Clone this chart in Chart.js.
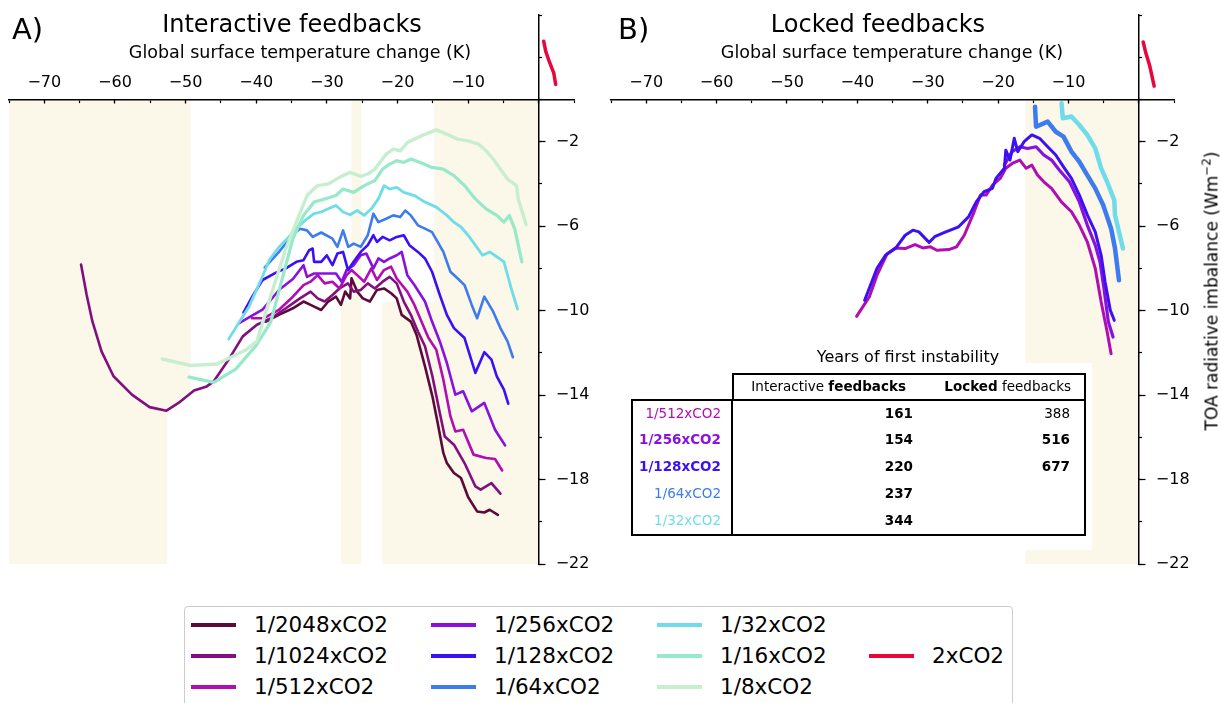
<!DOCTYPE html>
<html><head><meta charset="utf-8">
<script src="https://cdn.jsdelivr.net/npm/chart.js@4.4.1/dist/chart.umd.min.js"></script>
<style>
html,body{margin:0;padding:0;background:#fff}
body{position:relative;width:1221px;height:703px;overflow:hidden;font-family:'DejaVu Sans',sans-serif;color:#000}
.t{position:absolute;white-space:nowrap;line-height:1}
.cc{transform:translate(-50%,-50%)}
.lc{transform:translate(0,-50%)}
.rc{transform:translate(-100%,-50%)}
canvas{position:absolute;top:0}
</style></head><body>
<canvas id="cA" width="600" height="600" style="left:0px"></canvas>
<canvas id="cB" width="621" height="600" style="left:600px"></canvas>
<div class="t lc" style="left:12px;top:29px;font-size:29px">A)</div>
<div class="t cc" style="left:292px;top:24px;font-size:24px">Interactive feedbacks</div>
<div class="t cc" style="left:300px;top:53px;font-size:17.5px">Global surface temperature change (K)</div>
<div class="t lc" style="left:618px;top:29px;font-size:29px">B)</div>
<div class="t cc" style="left:878px;top:24px;font-size:24px">Locked feedbacks</div>
<div class="t cc" style="left:892px;top:53px;font-size:17.5px">Global surface temperature change (K)</div>
<div class="t" style="left:1212px;top:291px;font-size:17px;transform:translate(-50%,-50%) rotate(-90deg)">TOA radiative imbalance (Wm<span style="font-size:70%;position:relative;top:-0.55em">−2</span>)</div>
<div id="tbl"></div>
<div id="legend"></div>
<script>
// ---------------- data ----------------
const X_TICK_LABELS = [-70,-60,-50,-40,-30,-20,-10];
const X_MAJOR_TICKS = [-70,-60,-50,-40,-30,-20,-10,0];
const Y_TICK_LABELS = [-2,-6,-10,-14,-18,-22];

const SERIES_NAMES = ['1/2048xCO2','1/1024xCO2','1/512xCO2','1/256xCO2','1/128xCO2','1/64xCO2','1/32xCO2','1/16xCO2','1/8xCO2','2xCO2'];

// Panel A: interactive feedbacks  [temperature change K, TOA imbalance W m-2]
const A_2048 = [[-38.6,-10.52],[-36.8,-10.2],[-34.8,-9.89],[-33.3,-9.57],[-32.3,-9.73],[-30.8,-9.97],[-29.8,-9.57],[-28.7,-9.34],[-28.0,-9.73],[-27.4,-9.1],[-26.7,-9.42],[-26.5,-8.47],[-25.7,-9.1],[-24.9,-9.42],[-23.9,-9.57],[-22.9,-9.02],[-21.9,-8.95],[-20.9,-9.18],[-20.1,-9.42],[-19.4,-10.2],[-18.1,-10.52],[-17.3,-11.14],[-16.1,-12.64],[-15.05,-14.06],[-14.3,-15.32],[-13.5,-16.74],[-13.0,-17.22],[-12.0,-17.69],[-11.0,-17.93],[-10.0,-18.83],[-8.72,-19.51],[-7.7,-19.56],[-6.94,-19.43],[-5.78,-19.67]];
const A_1024 = [[-64.8,-7.82],[-64.0,-9.26],[-63.2,-10.5],[-61.9,-11.93],[-60.2,-13.11],[-57.6,-13.98],[-55.1,-14.57],[-52.7,-14.74],[-51.0,-14.37],[-48.8,-13.78],[-47.0,-13.59],[-46.0,-13.35],[-43.9,-12.32],[-41.9,-11.22],[-39.9,-10.67],[-37.9,-10.36],[-35.8,-9.89],[-33.8,-9.42],[-32.3,-9.1],[-31.3,-9.42],[-30.3,-9.57],[-29.2,-9.26],[-28.2,-8.95],[-27.0,-8.71],[-26.2,-9.1],[-25.2,-9.02],[-24.2,-8.71],[-23.2,-8.95],[-22.1,-8.63],[-21.1,-8.4],[-20.1,-8.71],[-19.1,-9.57],[-18.1,-10.2],[-17.1,-10.99],[-16.1,-11.69],[-15.05,-13.11],[-14.0,-14.85],[-13.3,-15.96],[-12.0,-16.35],[-10.5,-17.22],[-8.97,-18.32],[-8.21,-18.48],[-6.69,-18.17],[-5.42,-18.67]];
const A_512 = [[-40.6,-10.36],[-38.9,-10.36],[-36.8,-9.97],[-34.8,-9.34],[-33.3,-8.79],[-32.3,-8.63],[-31.3,-8.32],[-30.3,-8.71],[-29.2,-8.63],[-28.2,-8.95],[-27.2,-8.32],[-26.5,-8.08],[-25.7,-8.32],[-24.7,-8.63],[-23.7,-8.0],[-22.9,-8.55],[-21.9,-8.08],[-20.9,-7.92],[-20.1,-8.48],[-18.6,-9.1],[-17.6,-9.73],[-16.6,-10.52],[-15.6,-11.3],[-14.5,-11.85],[-13.5,-13.27],[-12.5,-15.0],[-11.8,-15.72],[-10.7,-15.64],[-9.22,-16.82],[-7.45,-16.98],[-6.18,-17.03],[-5.17,-17.57]];
const A_256 = [[-42.4,-10.59],[-40.9,-10.3],[-39.1,-9.95],[-36.7,-9.0],[-34.8,-8.5],[-33.3,-7.85],[-32.8,-8.4],[-31.8,-8.24],[-30.3,-8.24],[-28.7,-8.24],[-27.9,-8.63],[-27.2,-8.08],[-26.2,-7.85],[-25.2,-7.38],[-24.4,-7.3],[-23.4,-8.0],[-22.7,-7.53],[-21.9,-7.69],[-21.1,-7.53],[-20.1,-7.38],[-19.4,-7.22],[-18.6,-8.32],[-17.6,-8.79],[-16.1,-9.57],[-15.1,-10.52],[-14.0,-11.46],[-13.0,-12.48],[-11.8,-13.98],[-10.7,-13.82],[-9.48,-14.77],[-7.7,-14.37],[-6.18,-15.64],[-4.76,-16.38]];
const A_128 = [[-41.8,-10.1],[-40.5,-9.3],[-39.1,-8.55],[-37.2,-8.2],[-35.8,-8.0],[-34.3,-7.69],[-33.3,-7.61],[-32.5,-7.14],[-32.0,-7.06],[-31.8,-7.69],[-30.8,-7.69],[-30.0,-7.38],[-29.2,-7.85],[-28.5,-7.3],[-27.7,-7.22],[-27.0,-8.08],[-26.2,-7.69],[-25.2,-7.22],[-24.2,-6.9],[-23.4,-6.43],[-22.9,-6.75],[-22.1,-6.51],[-21.1,-6.67],[-20.1,-6.51],[-19.1,-6.43],[-18.3,-6.9],[-17.1,-7.22],[-16.1,-7.53],[-15.1,-8.16],[-14.0,-9.26],[-13.0,-10.2],[-12.0,-10.83],[-10.5,-11.3],[-8.97,-12.95],[-7.7,-11.97],[-6.69,-12.32],[-5.93,-13.11],[-4.92,-13.74],[-4.31,-14.41]];
const A_64 = [[-38.8,-7.96],[-36.7,-7.19],[-34.8,-6.4],[-33.8,-6.12],[-32.8,-6.2],[-32.0,-6.51],[-30.8,-6.3],[-29.2,-6.59],[-28.5,-6.98],[-27.7,-6.2],[-26.96,-6.98],[-26.2,-6.83],[-25.2,-6.98],[-24.2,-6.43],[-23.4,-5.41],[-22.7,-5.81],[-21.6,-5.65],[-20.6,-5.49],[-19.6,-5.57],[-18.9,-5.26],[-18.1,-5.49],[-17.1,-5.96],[-16.1,-6.12],[-15.1,-6.28],[-13.5,-7.22],[-12.5,-8.16],[-11.5,-8.47],[-10.5,-8.79],[-9.48,-9.73],[-8.72,-10.36],[-7.7,-9.34],[-6.44,-10.05],[-5.42,-10.83],[-4.41,-11.46],[-3.65,-12.21]];
const A_32 = [[-43.9,-11.35],[-42.5,-10.6],[-41.0,-9.8],[-39.1,-8.37],[-38.1,-7.58],[-36.8,-7.0],[-35.5,-6.56],[-34.3,-6.1],[-32.8,-5.65],[-31.8,-5.41],[-30.8,-5.33],[-29.8,-5.18],[-28.7,-5.02],[-27.7,-5.33],[-26.7,-5.46],[-25.7,-5.26],[-24.7,-5.49],[-23.7,-5.18],[-22.7,-4.71],[-21.9,-4.08],[-21.1,-4.24],[-20.1,-4.16],[-19.1,-4.4],[-17.6,-4.55],[-16.1,-4.86],[-14.5,-5.1],[-13.0,-5.49],[-12.0,-5.81],[-11.0,-6.04],[-10.0,-6.43],[-8.97,-6.9],[-7.96,-7.38],[-6.94,-7.22],[-5.93,-7.45],[-4.92,-7.69],[-3.9,-8.94],[-2.99,-9.93]];
const A_16 = [[-49.5,-13.15],[-46.0,-13.4],[-42.9,-12.77],[-40.1,-11.69],[-38.6,-10.9],[-37.9,-10.5],[-36.3,-8.47],[-34.8,-6.59],[-33.3,-5.49],[-31.8,-4.86],[-30.3,-4.71],[-28.7,-4.55],[-27.7,-4.24],[-26.2,-4.4],[-24.7,-4.08],[-23.2,-3.84],[-22.1,-3.3],[-21.1,-3.06],[-20.1,-2.9],[-19.1,-2.98],[-18.1,-2.82],[-16.6,-3.01],[-15.1,-3.22],[-13.5,-3.3],[-12.0,-3.61],[-10.5,-4.08],[-8.97,-4.71],[-7.45,-5.18],[-5.93,-5.49],[-4.92,-5.81],[-4.16,-5.49],[-3.4,-6.12],[-2.38,-7.69]];
const A_8 = [[-53.3,-12.29],[-49.3,-12.6],[-45.5,-12.53],[-43.5,-12.2],[-41.4,-11.85],[-39.9,-11.45],[-37.9,-9.26],[-35.8,-7.06],[-34.3,-5.8],[-32.8,-4.55],[-31.3,-4.08],[-29.8,-4.0],[-28.2,-3.69],[-26.7,-3.45],[-25.2,-3.64],[-24.2,-3.53],[-23.2,-3.3],[-21.6,-2.59],[-20.6,-2.35],[-19.6,-2.43],[-18.6,-2.04],[-17.6,-1.88],[-16.1,-1.65],[-14.5,-1.44],[-13.0,-1.65],[-11.5,-1.88],[-10.0,-1.96],[-8.5,-2.12],[-7.45,-2.43],[-6.44,-2.82],[-5.42,-3.3],[-4.41,-3.77],[-3.14,-4.08],[-2.89,-4.71],[-1.77,-5.93]];
const A_2x = [[0.71,2.76],[0.99,2.29],[1.56,1.74],[2.13,1.26],[2.41,0.71]];

// Panel B: locked feedbacks
const B_512 = [[-40.1,-10.27],[-38.3,-9.35],[-37.2,-8.32],[-35.75,-7.3],[-34.6,-7.03],[-33.2,-7.06],[-31.8,-6.87],[-30.7,-7.03],[-29.6,-6.98],[-28.7,-7.14],[-27.0,-7.11],[-25.9,-6.98],[-24.8,-6.43],[-23.4,-5.32],[-22.5,-4.53],[-21.7,-4.53],[-20.8,-4.06],[-19.7,-3.74],[-18.9,-3.26],[-18.0,-3.03],[-16.9,-2.87],[-16.0,-3.26],[-15.2,-3.11],[-14.4,-3.58],[-13.5,-3.9],[-12.4,-4.21],[-11.0,-4.85],[-9.57,-5.32],[-8.45,-5.95],[-7.32,-6.74],[-6.19,-8.0],[-5.35,-9.59],[-4.5,-11.0],[-3.94,-12.04]];
const B_256 = [[-19.1,-3.1],[-18.0,-2.47],[-16.9,-2.24],[-15.8,-2.32],[-14.6,-2.24],[-13.5,-2.63],[-12.4,-2.87],[-11.3,-3.34],[-9.85,-3.9],[-8.45,-4.85],[-7.32,-5.95],[-6.19,-6.9],[-5.52,-7.69],[-4.95,-8.95],[-4.33,-10.53],[-3.66,-11.25]];
const B_128 = [[-38.96,-9.51],[-37.2,-8.0],[-36.0,-7.38],[-34.6,-7.06],[-33.2,-6.43],[-32.1,-6.19],[-31.25,-6.27],[-29.8,-6.77],[-29.0,-6.5],[-27.6,-6.3],[-25.6,-6.03],[-24.2,-5.56],[-23.1,-4.85],[-22.0,-4.37],[-20.8,-4.21],[-20.3,-3.74],[-19.1,-3.26],[-18.9,-2.4],[-18.3,-2.87],[-17.7,-1.84],[-17.2,-2.47],[-16.3,-2.0],[-15.2,-1.68],[-14.1,-1.84],[-12.95,-2.24],[-11.8,-2.63],[-10.7,-3.19],[-9.57,-3.74],[-8.45,-4.53],[-7.3,-5.48],[-6.19,-6.27],[-5.35,-7.38],[-4.79,-8.64],[-4.05,-9.98],[-3.49,-10.46]];
const B_64 = [[-14.75,-0.34],[-14.6,-1.29],[-12.95,-1.05],[-11.8,-1.53],[-10.7,-1.76],[-9.57,-2.47],[-8.45,-2.95],[-7.32,-3.58],[-6.19,-4.21],[-5.07,-5.0],[-3.94,-6.11],[-3.38,-7.06],[-2.82,-8.56]];
const B_32 = [[-10.98,-0.18],[-10.8,-0.89],[-9.57,-0.81],[-8.45,-1.21],[-7.32,-1.68],[-6.19,-2.32],[-5.35,-3.26],[-4.5,-3.9],[-3.49,-4.77],[-3.38,-5.48],[-2.25,-7.06]];
const B_2x = [[0.62,2.72],[0.99,2.21],[1.56,1.58],[2.18,0.63]];

// shaded (unstable) temperature ranges, polygons in data units
const SHADE_A = [
  [[-75,0],[-49.3,0],[-49.3,-13.8],[-52.6,-14.7],[-52.6,-22],[-75,-22]],
  [[-26.5,0],[-25.1,0],[-25.1,-22],[-28.0,-22],[-28.0,-9.6],[-26.5,-9.6]],
  [[-14.8,0],[0,0],[0,-22],[-22.15,-22],[-22.15,-9.6],[-14.8,-9.6]]
];
const SHADE_B = [
  [[-16.1,0],[0,0],[0,-22],[-16.1,-22]]
];

// table
const TABLE_TITLE = 'Years of first instability';
const TABLE_ROWS = ['1/512xCO2','1/256xCO2','1/128xCO2','1/64xCO2','1/32xCO2'];
const YEARS_INTERACTIVE = [161,154,220,237,344];
const YEARS_LOCKED = [388,516,677,null,null];

// ---------------- styles ----------------
const COLORS = {
  '1/2048xCO2':'#5c0b38','1/1024xCO2':'#820f80','1/512xCO2':'#b00db2','1/256xCO2':'#8a10e0',
  '1/128xCO2':'#3c10f5','1/64xCO2':'#3e7bee','1/32xCO2':'#6fdcea','1/16xCO2':'#96e9c9',
  '1/8xCO2':'#c7efcf','2xCO2':'#e8063c'
};
const SHADE_COLOR = '#fbf7e9';
Chart.defaults.font.family = "'DejaVu Sans', sans-serif";
Chart.defaults.color = '#000';

const shadePlugin = {
  id:'shade',
  beforeDraw(chart, args, opts){
    const {ctx, scales:{x, y}} = chart;
    ctx.save(); ctx.fillStyle = SHADE_COLOR;
    for (const poly of opts.polys || []) {
      ctx.beginPath();
      poly.forEach(([vx,vy],i)=>{
        const px = x.getPixelForValue(vx), py = y.getPixelForValue(vy);
        if (i) ctx.lineTo(px,py); else ctx.moveTo(px,py);
      });
      ctx.closePath(); ctx.fill();
    }
    ctx.restore();
  }
};
const yLabelPlugin = {
  id:'ylab',
  afterDraw(chart){
    const {ctx, scales:{x, y}} = chart;
    ctx.save();
    ctx.font = "16px 'DejaVu Sans'"; ctx.fillStyle = '#000';
    ctx.textAlign = 'left'; ctx.textBaseline = 'middle';
    const x0 = x.getPixelForValue(0);
    for (const v of Y_TICK_LABELS) ctx.fillText('\u2212' + Math.abs(v), x0 + 17, y.getPixelForValue(v));
    ctx.restore();
  }
};

function makeChart(id, padL, padR, series, polys){
  const n = series.length;
  const tickGrid = len => ({display:true, drawOnChartArea:false, drawTicks:true, tickLength:len, tickColor:'#000', tickWidth:1.2});
  return new Chart(document.getElementById(id), {
    type:'scatter',
    data:{datasets: series.map((s,i)=>({
      label:s.name,
      data:s.pts.map(([x,y])=>({x,y})),
      borderColor:COLORS[s.name], backgroundColor:COLORS[s.name],
      borderWidth:s.w, showLine:true, pointRadius:0, pointHoverRadius:0,
      tension:0, fill:false, borderJoinStyle:'round', borderCapStyle:'round',
      order:n - i, clip:false
    }))},
    options:{
      responsive:false, animation:false, events:[],
      layout:{padding:{left:padL, right:padR, top:15, bottom:36}},
      plugins:{legend:{display:false}, tooltip:{enabled:false}, title:{display:false}, shade:{polys}},
      scales:{
        x:{type:'linear', min:-75, max:5, position:{y:0},
           grid:tickGrid(2.6),
           border:{display:true, color:'#000', width:1.5},
           ticks:{stepSize:5, autoSkip:false, maxRotation:0, minRotation:0, padding:-29, font:{size:16}, color:'#000',
                  callback:v => X_TICK_LABELS.includes(v) ? '\u2212' + Math.abs(v) : ''}},
        xMajor:{type:'linear', axis:'x', min:-75, max:5, position:{y:0},
           grid:tickGrid(4.5), border:{display:false},
           afterBuildTicks:s => { s.ticks = X_MAJOR_TICKS.map(v=>({value:v})); },
           ticks:{display:false}},
        y:{type:'linear', min:-22, max:4, position:{x:0},
           grid:tickGrid(-4),
           border:{display:true, color:'#000', width:1.5},
           ticks:{stepSize:2, display:false}},
        yMajor:{type:'linear', axis:'y', min:-22, max:4, position:{x:0},
           grid:tickGrid(-6.5), border:{display:false},
           afterBuildTicks:s => { s.ticks = Y_TICK_LABELS.map(v=>({value:v})); },
           ticks:{display:false}}
      }
    },
    plugins:[shadePlugin, yLabelPlugin]
  });
}

const seriesA = [
  {name:'1/2048xCO2', pts:A_2048, w:2.6},{name:'1/1024xCO2', pts:A_1024, w:2.6},{name:'1/512xCO2', pts:A_512, w:2.6},
  {name:'1/256xCO2', pts:A_256, w:2.6},{name:'1/128xCO2', pts:A_128, w:2.6},{name:'1/64xCO2', pts:A_64, w:2.6},
  {name:'1/32xCO2', pts:A_32, w:2.8},{name:'1/16xCO2', pts:A_16, w:3.2},{name:'1/8xCO2', pts:A_8, w:3.4},
  {name:'2xCO2', pts:A_2x, w:3.5}
];
const seriesB = [
  {name:'1/512xCO2', pts:B_512, w:3},{name:'1/256xCO2', pts:B_256, w:3.2},{name:'1/128xCO2', pts:B_128, w:3},
  {name:'1/64xCO2', pts:B_64, w:4.5},{name:'1/32xCO2', pts:B_32, w:4.5},{name:'2xCO2', pts:B_2x, w:3.5}
];
makeChart('cA', 9, 26, seriesA, SHADE_A);
makeChart('cB', 11, 47, seriesB, SHADE_B);

// ---------------- table ----------------
const tbl = document.getElementById('tbl');
function add(parent, css, html, cls){
  const d = document.createElement('div');
  if (cls) d.className = cls;
  d.style.cssText = 'position:absolute;' + css;
  if (html !== undefined) d.innerHTML = html;
  parent.appendChild(d); return d;
}
add(tbl, 'left:616px;top:363px;width:476px;height:187px;background:#fff;');
add(tbl, 'left:908px;top:357px;font-size:16px;', TABLE_TITLE, 't cc');
add(tbl, 'left:732px;top:373px;width:354px;height:28px;border:2px solid #000;box-sizing:border-box;');
add(tbl, 'left:631px;top:399px;width:455px;height:137px;border:2px solid #000;box-sizing:border-box;');
add(tbl, 'left:731px;top:399px;width:2px;height:137px;background:#000;');
add(tbl, 'left:906px;top:387px;font-size:13.5px;', 'Interactive <b>feedbacks</b>', 't rc');
add(tbl, 'left:1071px;top:387px;font-size:13.5px;', '<b>Locked</b> feedbacks', 't rc');
const LABEL_BOLD = [false,true,true,false,false];
const LOCKED_BOLD = [false,true,true,false,false];
TABLE_ROWS.forEach((r,i)=>{
  const y = 413.5 + i*26.85;
  add(tbl, `left:721px;top:${y}px;font-size:13.5px;color:${COLORS[r]};font-weight:${LABEL_BOLD[i]?'bold':'normal'}`, r, 't rc');
  add(tbl, `left:913px;top:${y}px;font-size:13.5px;font-weight:bold`, String(YEARS_INTERACTIVE[i]), 't rc');
  if (YEARS_LOCKED[i] !== null)
    add(tbl, `left:1070px;top:${y}px;font-size:13.5px;font-weight:${LOCKED_BOLD[i]?'bold':'normal'}`, String(YEARS_LOCKED[i]), 't rc');
});

// ---------------- legend ----------------
const lg = document.getElementById('legend');
add(lg, 'left:184px;top:606px;width:829px;height:110px;border:1px solid #cccccc;border-radius:4px;background:#fff;box-sizing:border-box;');
const LEGEND_LAYOUT = [
  ['1/2048xCO2','1/1024xCO2','1/512xCO2'],
  ['1/256xCO2','1/128xCO2','1/64xCO2'],
  ['1/32xCO2','1/16xCO2','1/8xCO2'],
  [null,'2xCO2',null]
];
const COL_X = [191,431,657,869], ROW_Y = [625,656,687];
LEGEND_LAYOUT.forEach((col,ci)=>col.forEach((name,ri)=>{
  if (!name) return;
  add(lg, `left:${COL_X[ci]}px;top:${ROW_Y[ri]-1.75}px;width:45px;height:3.5px;background:${COLORS[name]};`);
  add(lg, `left:${COL_X[ci]+63}px;top:${ROW_Y[ri]}px;font-size:21.5px;`, name, 't lc');
}));
</script>
</body></html>
